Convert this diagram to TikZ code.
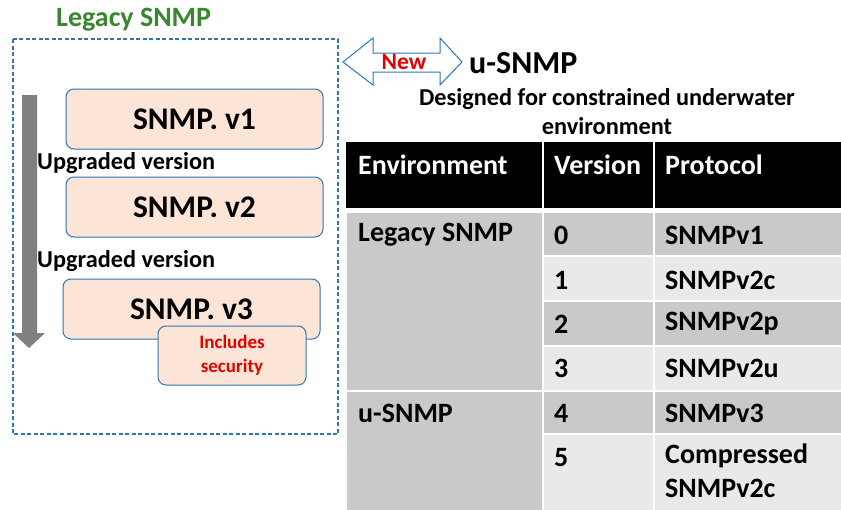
\documentclass[tikz,border=0pt]{standalone}
\usepackage{fontspec}
\setmainfont{Carlito}
\definecolor{boxblue}{RGB}{46,117,182}
\definecolor{boxfill}{RGB}{252,228,214}
\definecolor{titlegreen}{RGB}{56,135,45}
\definecolor{newred}{RGB}{230,0,0}
\definecolor{arrowgray}{RGB}{128,128,128}
\definecolor{celldark}{RGB}{201,201,201}
\definecolor{celllight}{RGB}{233,233,233}
\tikzset{
  verbox/.style={draw=boxblue, line width=1pt, fill=boxfill, rounded corners=8pt},
  bigtxt/.style={font=\bfseries\fontsize{31.5}{36}\selectfont, text=black},
  midtxt/.style={font=\bfseries\fontsize{24.3}{29}\selectfont, text=black},
  celltxt/.style={font=\bfseries\fontsize{28}{34}\selectfont, text=black, anchor=west, inner sep=0pt, align=left},
  hdrtxt/.style={font=\bfseries\fontsize{28}{32}\selectfont, text=white, anchor=west, inner sep=0pt},
  cell/.style={draw=white, line width=1.5pt, inner sep=0pt},
}
\begin{document}
\begin{tikzpicture}[x=1pt,y=-1pt]
\useasboundingbox (0,0) rectangle (841,509);
% left part
\node[font=\bfseries\fontsize{28}{32}\selectfont, text=titlegreen, anchor=west, inner sep=0pt] (legtitle) at (56,20) {Legacy SNMP};
\draw[boxblue, line width=1.5pt, dash pattern=on 4pt off 2.5pt] (13,39) rectangle (338,434);
\fill[arrowgray] (22,95) -- (37,95) -- (37,333) -- (45,333) -- (29,348) -- (13,333) -- (22,333) -- cycle;
\draw[verbox] (66,89) rectangle (323,149);
\node[bigtxt] (v1) at (194.5,119) {SNMP. v1};
\node[midtxt, anchor=west, inner sep=0pt] (up1) at (37,163) {Upgraded version};
\draw[verbox] (66,177) rectangle (323,237);
\node[bigtxt] (v2) at (194.5,207) {SNMP. v2};
\node[midtxt, anchor=west, inner sep=0pt] (up2) at (37,261) {Upgraded version};
\draw[verbox] (63,279) rectangle (320,339);
\node[bigtxt] (v3) at (191.5,309) {SNMP. v3};
\draw[verbox] (158,326) rectangle (306,385);
\node[font=\bfseries\fontsize{19}{24}\selectfont, text=newred, align=center] (sec) at (232,355.5) {Includes\\security};
% double arrow
\draw[boxblue, line width=1pt, fill=white] (343,62) -- (373,38) -- (373,53) -- (440,53) -- (440,38) -- (462,62) -- (440,85) -- (440,72) -- (373,72) -- (373,85) -- cycle;
\node[font=\bfseries\fontsize{23.5}{28}\selectfont, text=newred] (new) at (404,62) {New};
\node[font=\bfseries\fontsize{32}{36}\selectfont, anchor=west, inner sep=0pt] (usnmp) at (469,63) {u-SNMP};
\node[midtxt, align=center] (desc) at (607,112) {Designed for constrained underwater\\environment};
% table header
\fill[black] (346,142) rectangle (841,208);
\draw[white, line width=2pt] (543,142) -- (543,208);
\draw[white, line width=2pt] (654,142) -- (654,208);
\node[hdrtxt] (h1) at (358,165) {Environment};
\node[hdrtxt] (h2) at (554,165) {Version};
\node[hdrtxt] (h3) at (665,165) {Protocol};
% table body
\path[cell, fill=celldark] (346,212) rectangle (543,391);
\path[cell, fill=celldark] (346,391) rectangle (543,511);
\draw[white, line width=1.5pt] (346,211) -- (841,211);
\foreach \ya/\yb/\c in {212/256/celldark, 256/301/celllight, 301/346/celldark, 346/391/celllight, 391/434/celldark, 434/511/celllight}{
  \path[cell, fill=\c] (543,\ya) rectangle (654,\yb);
  \path[cell, fill=\c] (654,\ya) rectangle (842,\yb);
}
\node[celltxt] (e1) at (358,235) {Legacy SNMP};
\node[celltxt] (e2) at (358,413) {u-SNMP};
\node[celltxt] (n0) at (554,235) {0};
\node[celltxt] (n1) at (554,280) {1};
\node[celltxt] (n2) at (554,324) {2};
\node[celltxt] (n3) at (554,368) {3};
\node[celltxt] (n4) at (554,413) {4};
\node[celltxt] (n5) at (554,458) {5};
\node[celltxt] (p0) at (665,235) {SNMPv1};
\node[celltxt] (p1) at (665,280) {SNMPv2c};
\node[celltxt] (p2) at (665,324) {SNMPv2p};
\node[celltxt] (p3) at (665,368) {SNMPv2u};
\node[celltxt] (p4) at (665,413) {SNMPv3};
\node[celltxt, anchor=north west] (p5) at (665,444) {Compressed\\SNMPv2c};
\end{tikzpicture}
\end{document}
